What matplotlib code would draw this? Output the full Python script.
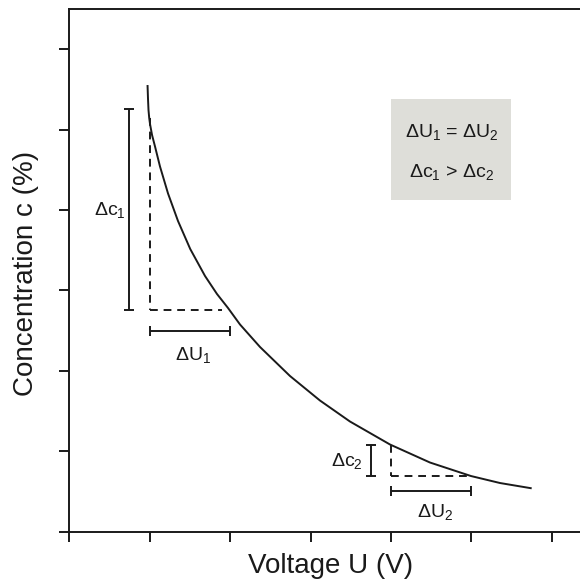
import matplotlib
matplotlib.use("Agg")
import matplotlib.pyplot as plt
from matplotlib.patches import Rectangle

plt.rcParams['font.family'] = ['Liberation Sans', 'DejaVu Sans']
plt.rcParams['mathtext.fontset'] = 'custom'
plt.rcParams['mathtext.rm'] = 'Liberation Sans'
plt.rcParams['mathtext.it'] = 'Liberation Sans'

# curve
voltage = [0.973, 0.979, 0.985, 0.994, 1.004, 1.029, 1.066, 1.128, 1.228, 1.352,
           1.504, 1.688, 1.837, 1.974, 2.123, 2.372, 2.745, 3.118, 3.491, 3.989,
           4.486, 4.996, 5.357, 5.751]
concentration = [5.553, 5.379, 5.243, 5.143, 5.068, 4.932, 4.789, 4.540, 4.204, 3.862,
                 3.514, 3.178, 2.954, 2.780, 2.575, 2.295, 1.934, 1.629, 1.368, 1.082,
                 0.858, 0.690, 0.603, 0.537]

# the two steps
step_u = [1.0, 4.0]
step_u_end = [1.9, 5.0]
step_c_top = [5.14, 1.08]
step_c_bottom = [2.755, 0.69]

# measuring bars
dc_bar_x = [0.746, 3.75]
dc_bar_top = [5.25, 1.08]
dc_bar_bottom = [2.755, 0.69]
du_bar_y = [2.50, 0.504]
du_bar_left = [1.0, 4.0]
du_bar_right = [2.0, 5.0]

dc_labels = ['Δc$_1$', 'Δc$_2$']
dc_label_pos = [(0.5, 4.0), (3.45, 0.88)]
du_labels = ['ΔU$_1$', 'ΔU$_2$']
du_label_pos = [(1.54, 2.195), (4.55, 0.246)]

ticks = [0, 1, 2, 3, 4, 5, 6]

ink = '#1a1a1a'
lw = 1.4

fig = plt.figure(figsize=(5.8, 5.85), dpi=100)
ax = fig.add_axes([69.3 / 580, 53.5 / 585, 522.6 / 580, 522.6 / 585])
ax.set_xlim(0, 6.5)
ax.set_ylim(0, 6.5)

# spines and ticks
ax.spines['right'].set_visible(False)
for side in ['left', 'bottom', 'top']:
    ax.spines[side].set_linewidth(lw)
    ax.spines[side].set_color(ink)
ax.set_xticks(ticks)
ax.set_yticks(ticks)
ax.set_xticklabels([])
ax.set_yticklabels([])
ax.tick_params(direction='out', length=7.2, width=lw, color=ink)

# main curve
ax.plot(voltage, concentration, color=ink, lw=lw, solid_capstyle='butt',
        solid_joinstyle='round')

# dashed step triangles
for i in range(2):
    ax.plot([step_u[i], step_u[i]], [step_c_top[i], step_c_bottom[i]],
            color=ink, lw=lw, linestyle=(0, (4, 3)))
    ax.plot([step_u[i], step_u_end[i]], [step_c_bottom[i], step_c_bottom[i]],
            color=ink, lw=lw, linestyle=(0, (4, 3)))

# measuring bars
for i in range(2):
    mid = (dc_bar_top[i] + dc_bar_bottom[i]) / 2
    half = (dc_bar_top[i] - dc_bar_bottom[i]) / 2
    ax.errorbar(dc_bar_x[i], mid, yerr=half, fmt='none', ecolor=ink,
                elinewidth=lw, capsize=3.6, capthick=lw)
    mid = (du_bar_left[i] + du_bar_right[i]) / 2
    half = (du_bar_right[i] - du_bar_left[i]) / 2
    ax.errorbar(mid, du_bar_y[i], xerr=half, fmt='none', ecolor=ink,
                elinewidth=lw, capsize=3.6, capthick=lw)

for lab, (x, y) in zip(dc_labels, dc_label_pos):
    ax.text(x, y, lab, fontsize=14, color=ink, ha='center', va='center')
for lab, (x, y) in zip(du_labels, du_label_pos):
    ax.text(x, y, lab, fontsize=14, color=ink, ha='center', va='center')

# grey info box
ax.add_patch(Rectangle((4.0, 4.123), 1.494, 1.253, facecolor='#deded9',
                       edgecolor='none', zorder=1))
ax.text(4.754, 4.972, 'ΔU$_1$ = ΔU$_2$', fontsize=14, color=ink,
        ha='center', va='center', zorder=2)
ax.text(4.754, 4.475, 'Δc$_1$ > Δc$_2$', fontsize=14, color=ink,
        ha='center', va='center', zorder=2)

fig.text(330.8 / 580, (585 - 573) / 585, 'Voltage U (V)', fontsize=20,
         color=ink, ha='center', va='baseline')
fig.text(26.5 / 580, (585 - 273.5) / 585, 'Concentration c (%)', fontsize=20,
         color=ink, ha='center', va='center', rotation=90)

fig.savefig('out.png', dpi=100)
